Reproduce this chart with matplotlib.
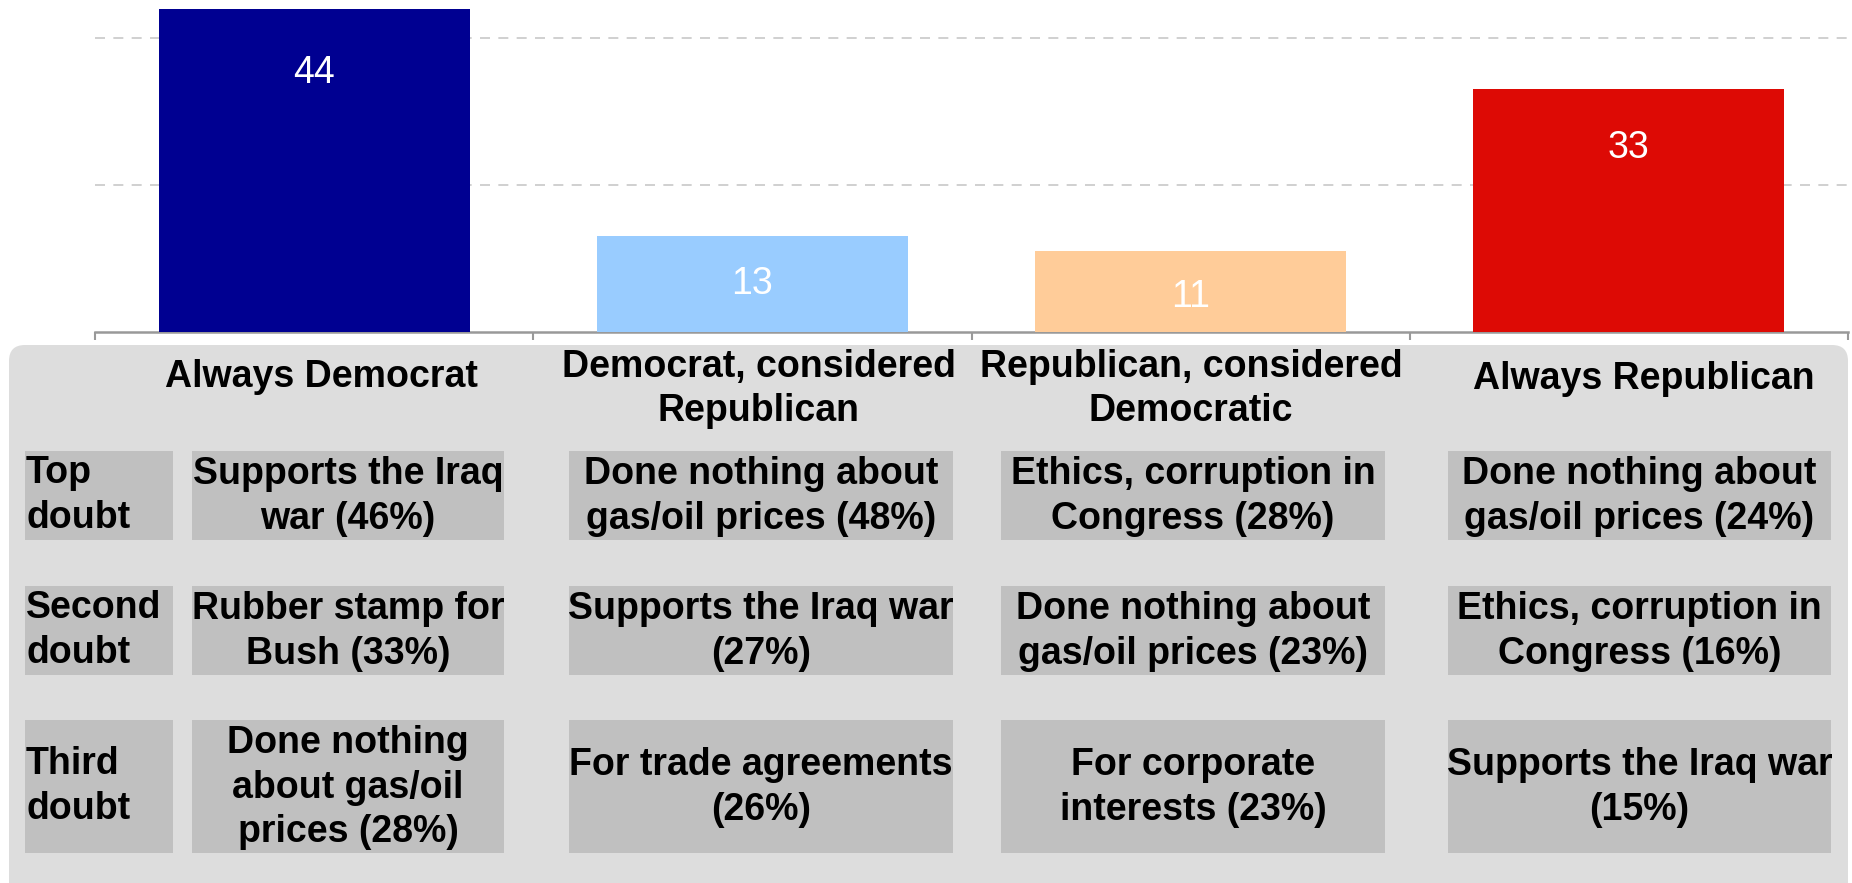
import matplotlib
matplotlib.use("Agg")
import matplotlib.pyplot as plt
from matplotlib.patches import FancyBboxPatch, Rectangle

plt.rcParams['font.family'] = ['Liberation Sans', 'DejaVu Sans']

# data
categories = ["Always Democrat", "Democrat, considered\nRepublican",
              "Republican, considered\nDemocratic", "Always Republican"]
values = [44, 13, 11, 33]
bar_colors = ["#000091", "#99CCFF", "#FFCC99", "#DD0A05"]
row_labels = ["Top\ndoubt", "Second\ndoubt", "Third\ndoubt"]
doubts_dem = ["Supports the Iraq\nwar (46%)", "Rubber stamp for\nBush (33%)",
              "Done nothing\nabout gas/oil\nprices (28%)"]
doubts_dem_rep = ["Done nothing about\ngas/oil prices (48%)", "Supports the Iraq war\n(27%)",
                  "For trade agreements\n(26%)"]
doubts_rep_dem = ["Ethics, corruption in\nCongress (28%)", "Done nothing about\ngas/oil prices (23%)",
                  "For corporate\ninterests (23%)"]
doubts_rep = ["Done nothing about\ngas/oil prices (24%)", "Ethics, corruption in\nCongress (16%)",
              "Supports the Iraq war\n(15%)"]
doubt_cols = [doubts_dem, doubts_dem_rep, doubts_rep_dem, doubts_rep]

W, H = 1852, 883
fig = plt.figure(figsize=(W / 100, H / 100), dpi=100)

# table panel, drawn in pixel coordinates
tab = fig.add_axes([0, 0, 1, 1])
tab.set_xlim(0, W)
tab.set_ylim(H, 0)
tab.axis("off")

tab.add_patch(FancyBboxPatch((9, 345), 1848 - 9, 600, boxstyle="round,pad=0,rounding_size=16",
                             facecolor="#DDDDDD", edgecolor="none"))

row_y = [(451, 540), (586, 675), (720, 853)]
label_x = (25, 173)
col_x = [(192, 504), (569, 953), (1001, 1385), (1448, 1831)]
header_x = [321, 759, 1191, 1644]
header_y = [377, 389, 389, 379]
fs = 27
ls = 1.3

for name, hx, hy in zip(categories, header_x, header_y):
    tab.text(hx, hy, name, ha="center", va="center", fontsize=fs, fontweight="bold",
             linespacing=ls)

for (y0, y1), lab in zip(row_y, row_labels):
    tab.add_patch(Rectangle((label_x[0], y0), label_x[1] - label_x[0], y1 - y0,
                            facecolor="#C0C0C0", edgecolor="none"))
    tab.text(label_x[0] + 1, (y0 + y1) / 2, lab, ha="left", va="center", fontsize=fs,
             fontweight="bold", linespacing=ls)

for (x0, x1), col in zip(col_x, doubt_cols):
    for (y0, y1), txt in zip(row_y, col):
        tab.add_patch(Rectangle((x0, y0), x1 - x0, y1 - y0, facecolor="#C0C0C0", edgecolor="none"))
        tab.text((x0 + x1) / 2, (y0 + y1) / 2 + 1, txt, ha="center", va="center", fontsize=fs,
                 fontweight="bold", linespacing=ls)

# bar chart
ax_left, ax_right, base = 95, 1848, 332
ymax = 45
ax_h = ymax * 7.35
ax = fig.add_axes([ax_left / W, (H - base) / H, (ax_right - ax_left) / W, ax_h / H])
x = list(range(len(values)))
bars = ax.bar(x, values, width=0.71, color=bar_colors, zorder=3)
ax.set_xlim(-0.5, len(values) - 0.5)
ax.set_ylim(0, ymax)
ax.set_yticks([20, 40])
ax.yaxis.grid(True, linestyle=(0, (6, 5)), color="#C8C8C8", linewidth=1.2, zorder=0)
ax.tick_params(axis="y", length=0, labelleft=False)
ax.set_xticks([i - 0.5 for i in range(len(values) + 1)])
ax.tick_params(axis="x", direction="out", length=6, width=1.5, color="#999999", labelbottom=False)
for s in ["top", "right", "left"]:
    ax.spines[s].set_visible(False)
ax.spines["bottom"].set_color("#999999")
ax.spines["bottom"].set_linewidth(1.8)
ax.patch.set_alpha(0)

for b, v in zip(bars, values):
    off = (40 + 0.55 * v) * 0.72
    ax.annotate(str(v), (b.get_x() + b.get_width() / 2, v), xytext=(0, -off),
                textcoords="offset points", ha="center", va="center", color="white", fontsize=27)

fig.savefig("out.png", dpi=100)
